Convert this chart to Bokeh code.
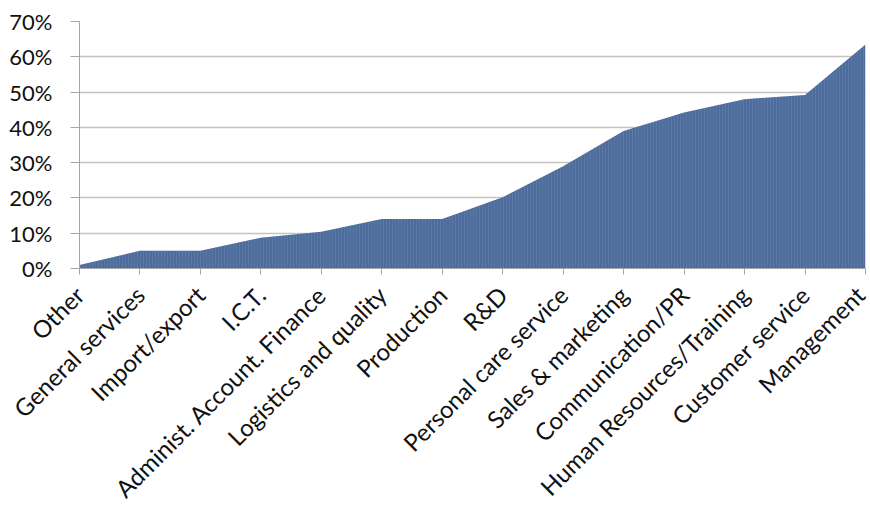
import math
from bokeh.plotting import figure
from bokeh.models import FixedTicker, Range1d, NumeralTickFormatter
from bokeh.embed import file_html
from bokeh.resources import INLINE

# Share of respondents per job area, sorted ascending
categories = [
    "Other", "General services", "Import/export", "I.C.T.",
    "Administ. Account. Finance", "Logistics and quality", "Production",
    "R&D", "Personal care service", "Sales & marketing",
    "Communication/PR", "Human Resources/Training", "Customer service",
    "Management",
]
shares = [0.01, 0.05, 0.05, 0.087, 0.104, 0.14, 0.14,
          0.202, 0.29, 0.39, 0.442, 0.48, 0.492, 0.635]
y_ticks = [0.0, 0.1, 0.2, 0.3, 0.4, 0.5, 0.6, 0.7]

xs = list(range(len(categories)))

p = figure(frame_width=786, frame_height=247, output_backend="svg",
           toolbar_location=None,
           x_range=Range1d(0, len(categories) - 1), y_range=Range1d(0, 0.7),
           min_border_left=79, min_border_right=5, min_border_top=21,
           min_border_bottom=10)
p.outline_line_color = None

p.varea(x=xs, y1=[0] * len(xs), y2=shares, fill_color="#4d6b9b",
        hatch_pattern="|", hatch_color="#6683b0", hatch_scale=3,
        hatch_weight=1, hatch_alpha=0.6)

FONT = "Lato"
LABEL_COLOR = "#111111"
AXIS_COLOR = "#a6a6a6"

# y axis
p.yaxis.ticker = FixedTicker(ticks=y_ticks)
p.yaxis.formatter = NumeralTickFormatter(format="0%")
p.yaxis.axis_line_color = AXIS_COLOR
p.yaxis.major_tick_line_color = AXIS_COLOR
p.yaxis.major_tick_out = 9
p.yaxis.major_tick_in = 0
p.yaxis.minor_tick_line_color = None
p.yaxis.major_label_standoff = 18
p.yaxis.major_label_text_font = FONT
p.yaxis.major_label_text_font_size = "22px"
p.yaxis.major_label_text_color = LABEL_COLOR

# x axis with rotated category names
p.xaxis.ticker = FixedTicker(ticks=xs)
p.xaxis.major_label_overrides = {i: c for i, c in enumerate(categories)}
p.xaxis.major_label_orientation = math.pi / 4
p.xaxis.axis_line_color = AXIS_COLOR
p.xaxis.major_tick_line_color = AXIS_COLOR
p.xaxis.major_tick_out = 6
p.xaxis.major_tick_in = 0
p.xaxis.minor_tick_line_color = None
p.xaxis.major_label_standoff = 16
p.xaxis.major_label_text_font = FONT
p.xaxis.major_label_text_font_size = "24px"
p.xaxis.major_label_text_color = LABEL_COLOR

p.xgrid.grid_line_color = None
p.ygrid.grid_line_color = "#c4c4c4"
p.ygrid.grid_line_width = 1.5
p.ygrid.level = "underlay"

open("out.html", "w").write(file_html(p, INLINE))
